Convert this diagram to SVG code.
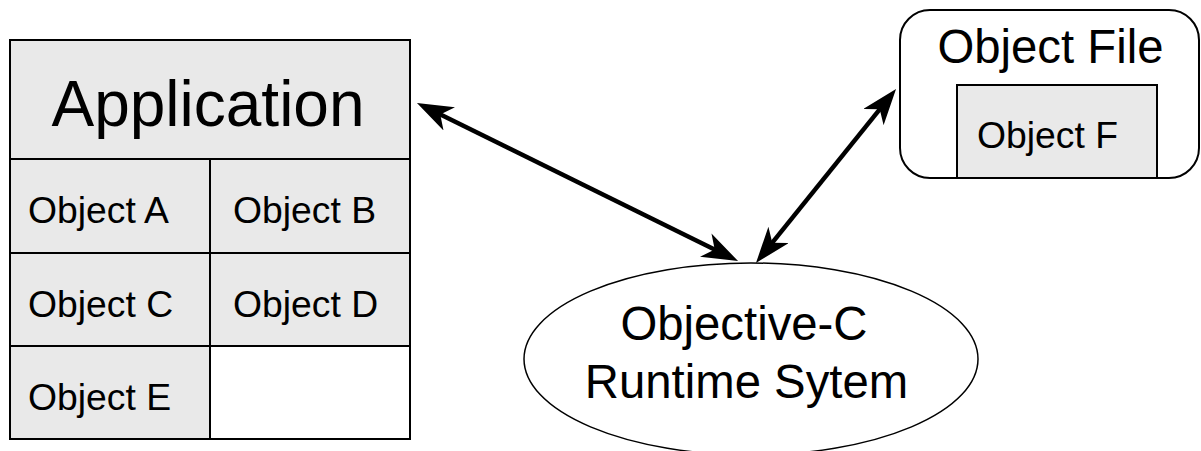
<svg xmlns="http://www.w3.org/2000/svg" width="1201" height="451" viewBox="0 0 1201 451">
  <style>
    text { font-family: "Liberation Sans", Arial, Helvetica, sans-serif; fill: #000; }
    .cell { fill: #e9e9e9; stroke: #000; stroke-width: 2; }
    .empty { fill: #fff; stroke: #000; stroke-width: 2; }
    .obj { font-size: 37.3px; }
    .big { font-size: 47.3px; text-anchor: middle; }
    .link { fill: none; stroke: #000; stroke-width: 4.5; }
  </style>
  <defs>
    <marker id="head" markerUnits="userSpaceOnUse" viewBox="0 -13 36 26" markerWidth="36" markerHeight="26" refX="16" refY="0" orient="auto-start-reverse">
      <path d="M0,-13 L36,0 L0,13 L10,0 Z" fill="#000"/>
    </marker>
  </defs>
  <rect width="1201" height="451" fill="#fff"/>

  <!-- application with its objects -->
  <g id="application">
    <rect class="cell" x="10" y="40" width="400" height="119"/>
    <text x="208" y="126" font-size="64" text-anchor="middle">Application</text>
  </g>
  <g id="object-a">
    <rect class="cell" x="10" y="159" width="200" height="94"/>
    <text class="obj" x="28" y="223">Object A</text>
  </g>
  <g id="object-b">
    <rect class="cell" x="210" y="159" width="200" height="94"/>
    <text class="obj" x="233" y="223">Object B</text>
  </g>
  <g id="object-c">
    <rect class="cell" x="10" y="253" width="200" height="93"/>
    <text class="obj" x="28" y="317">Object C</text>
  </g>
  <g id="object-d">
    <rect class="cell" x="210" y="253" width="200" height="93"/>
    <text class="obj" x="233" y="317">Object D</text>
  </g>
  <g id="object-e">
    <rect class="cell" x="10" y="346" width="200" height="93"/>
    <text class="obj" x="28" y="410">Object E</text>
  </g>
  <g id="empty-slot">
    <rect class="empty" x="210" y="346" width="200" height="93"/>
  </g>

  <!-- object file -->
  <g id="object-file">
    <rect x="900" y="10" width="299" height="168" rx="30" ry="30" fill="#fff" stroke="#000" stroke-width="2"/>
    <text class="big" x="1050.5" y="63">Object File</text>
  </g>
  <g id="object-f">
    <rect class="cell" x="957" y="85" width="200" height="93"/>
    <text class="obj" x="977" y="148">Object F</text>
  </g>

  <!-- runtime -->
  <g id="runtime">
    <ellipse cx="751" cy="359" rx="227" ry="96" fill="#fff" stroke="#000" stroke-width="1.5"/>
    <text class="big" x="744" y="340">Objective-C</text>
    <text class="big" x="746.5" y="398">Runtime Sytem</text>
  </g>

  <!-- connectors -->
  <g id="connectors">
    <path class="link" d="M434.9,111.8 L720.1,252.2" marker-start="url(#head)" marker-end="url(#head)"/>
    <path class="link" d="M768.5,247.4 L883.5,104.6" marker-start="url(#head)" marker-end="url(#head)"/>
  </g>
</svg>
